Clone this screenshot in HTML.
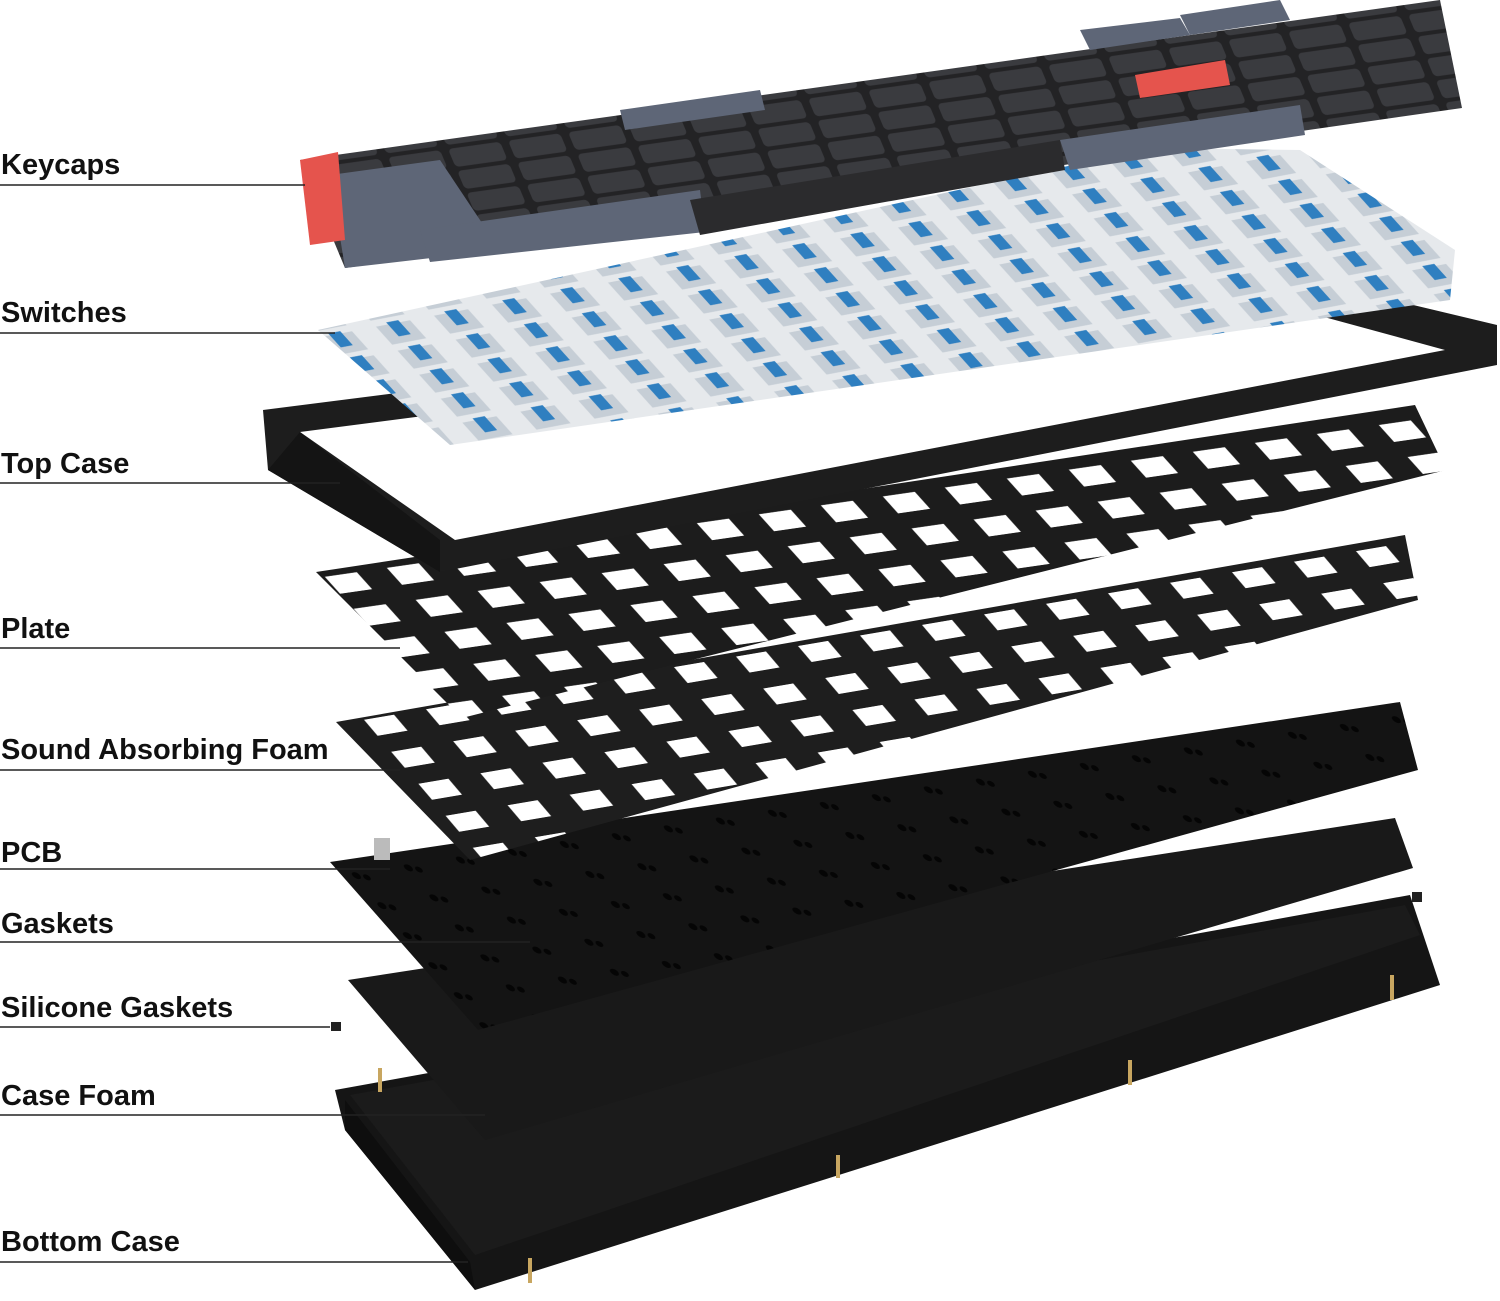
<!DOCTYPE html>
<html><head><meta charset="utf-8"><style>
html,body{margin:0;padding:0;background:#fff;width:1500px;height:1301px;overflow:hidden}
svg{position:absolute;left:0;top:0}
.l{font-family:"Liberation Sans",sans-serif;font-weight:bold;font-size:29px;fill:#111}
.ln{stroke:#222;stroke-width:1.5}
</style></head><body>
<svg width="1500" height="1301" viewBox="0 0 1500 1301">
<defs>
<pattern id="holes" width="62" height="32" patternUnits="userSpaceOnUse" patternTransform="matrix(1,-0.144,0.9,1,0,0)">
<rect width="62" height="32" fill="#1c1c1c"/><rect x="14" y="8" width="32" height="17" fill="#fff"/></pattern>
<pattern id="holes2" width="62" height="32" patternUnits="userSpaceOnUse" patternTransform="matrix(1,-0.17,0.85,1,20,0)">
<rect width="62" height="32" fill="#1e1e1e"/><rect x="14" y="8" width="30" height="16" fill="#fff"/></pattern>
<pattern id="keys" width="60" height="22" patternUnits="userSpaceOnUse" patternTransform="matrix(1,-0.14,0.42,1,0,0)">
<rect width="60" height="22" fill="#232325"/><rect x="4" y="2" width="52" height="18" rx="4" fill="#3a3b3f"/></pattern>
<pattern id="sw" width="58" height="24" patternUnits="userSpaceOnUse" patternTransform="matrix(1,-0.19,0.9,1,0,0)">
<rect width="58" height="24" fill="#e6e9ec"/><rect x="12" y="4" width="34" height="18" fill="#c6ced6"/><rect x="24" y="2" width="12" height="14" fill="#2f7fc0"/></pattern>
<pattern id="dots" width="52" height="30" patternUnits="userSpaceOnUse" patternTransform="matrix(1,-0.15,0.85,1,0,0)">
<rect width="52" height="30" fill="#141414"/><circle cx="20" cy="14" r="3.5" fill="#050505"/><circle cx="28" cy="17" r="3" fill="#050505"/></pattern>
</defs>

<!-- Bottom case -->
<polygon points="335,1090 1410,895 1440,985 475,1290 345,1130" fill="#151515"/>
<polygon points="350,1095 1405,905 1420,935 475,1255" fill="#1b1b1b"/>
<polygon points="345,1130 475,1290 470,1262 345,1100" fill="#0e0e0e"/>
<line x1="380" y1="1068" x2="380" y2="1092" stroke="#c8a660" stroke-width="4"/>
<line x1="838" y1="1155" x2="838" y2="1178" stroke="#c8a660" stroke-width="4"/>
<line x1="1130" y1="1060" x2="1130" y2="1085" stroke="#c8a660" stroke-width="4"/>
<line x1="1392" y1="975" x2="1392" y2="1000" stroke="#c8a660" stroke-width="4"/>
<line x1="530" y1="1258" x2="530" y2="1283" stroke="#c8a660" stroke-width="4"/>
<!-- Case foam -->
<polygon points="348,980 1395,818 1413,868 485,1140" fill="#191919"/>
<!-- gaskets -->
<rect x="331" y="1022" width="10" height="9" fill="#222"/>
<rect x="1412" y="892" width="10" height="10" fill="#222"/>
<!-- PCB -->
<polygon points="330,862 1400,702 1418,770 478,1030" fill="url(#dots)"/>
<rect x="374" y="838" width="16" height="22" fill="#bbb"/>
<!-- Foam -->
<polygon points="336,722 1405,535 1418,600 470,860" fill="url(#holes2)"/>
<!-- Plate -->
<polygon points="316,572 1415,405 1446,470 462,718" fill="url(#holes)"/>
<!-- Top case -->
<polygon points="263,410 1300,278 1497,325 1497,365 440,572 268,470" fill="#1d1d1d"/>
<polygon points="300,432 1280,305 1445,350 455,540" fill="#fff"/>
<polygon points="268,470 440,572 440,540 300,432" fill="#141414"/>
<!-- Switches -->
<polygon points="318,330 1150,148 1300,150 1455,250 1450,300 450,445" fill="url(#sw)"/>
<!-- Keycaps -->
<polygon points="300,160 1440,0 1462,108 345,268" fill="url(#keys)"/>
<polygon points="330,175 440,160 500,250 345,268" fill="#5e6677"/>
<polygon points="420,230 700,190 705,232 430,262" fill="#5e6677"/>
<polygon points="690,200 1060,140 1065,170 700,235" fill="#2b2b2d"/>
<polygon points="1060,140 1300,105 1305,135 1070,170" fill="#5e6677"/>
<polygon points="1080,30 1180,18 1190,35 1090,50" fill="#5e6677"/>
<polygon points="1180,15 1280,0 1290,20 1190,35" fill="#5e6677"/>
<polygon points="620,110 760,90 765,110 625,130" fill="#5e6677"/>
<polygon points="1135,75 1225,60 1230,85 1140,98" fill="#e5544d"/>
<polygon points="300,160 338,152 345,240 310,245" fill="#e5544d"/>

<!-- Labels -->
<text class="l" x="1" y="174">Keycaps</text><line class="ln" x1="0" y1="185" x2="305" y2="185"/>
<text class="l" x="1" y="322">Switches</text><line class="ln" x1="0" y1="333" x2="335" y2="333"/>
<text class="l" x="1" y="473">Top Case</text><line class="ln" x1="0" y1="483" x2="340" y2="483"/>
<text class="l" x="1" y="638">Plate</text><line class="ln" x1="0" y1="648" x2="400" y2="648"/>
<text class="l" x="1" y="759">Sound Absorbing Foam</text><line class="ln" x1="0" y1="770" x2="400" y2="770"/>
<text class="l" x="1" y="862">PCB</text><line class="ln" x1="0" y1="869" x2="390" y2="869"/>
<text class="l" x="1" y="933">Gaskets</text><line class="ln" x1="0" y1="942" x2="530" y2="942"/>
<text class="l" x="1" y="1017">Silicone Gaskets</text><line class="ln" x1="0" y1="1027" x2="330" y2="1027"/>
<text class="l" x="1" y="1105">Case Foam</text><line class="ln" x1="0" y1="1115" x2="485" y2="1115"/>
<text class="l" x="1" y="1251">Bottom Case</text><line class="ln" x1="0" y1="1262" x2="468" y2="1262"/>
</svg>
</body></html>
